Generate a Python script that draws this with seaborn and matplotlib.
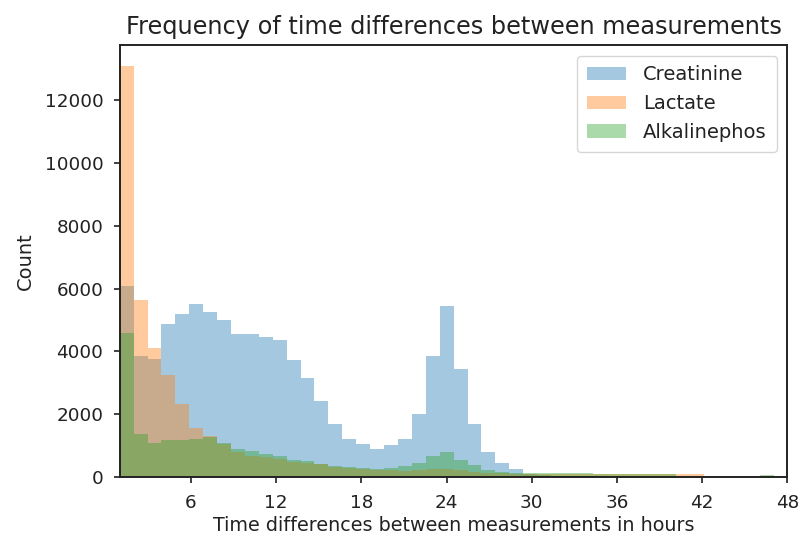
import numpy as np
import pandas as pd
import matplotlib
matplotlib.use("Agg")
import matplotlib.pyplot as plt
import seaborn as sns

# Histogram bin counts (bins of 0.98 h starting at 0.98 h)
bin_width = 0.98
n_bins = 48

creatinine = [6080, 3850, 3750, 4880, 5200, 5500, 5250, 5000, 4560, 4560,
              4450, 4370, 3730, 3160, 2410, 1700, 1200, 1040, 900, 1030,
              1200, 2010, 3850, 5440, 3430, 1700, 810, 450, 240, 100,
              60, 40, 30, 25, 20, 15, 15, 10, 10, 10,
              8, 5, 5, 3, 3, 2, 2, 0]
lactate = [13100, 5630, 4120, 3240, 2340, 1560, 1320, 1060, 800, 665,
           633, 570, 475, 456, 410, 330, 300, 260, 230, 210,
           200, 210, 240, 270, 220, 170, 140, 120, 110, 100,
           100, 95, 95, 90, 90, 90, 90, 90, 90, 90,
           85, 85, 0, 0, 0, 0, 0, 0]
alkalinephos = [4590, 1380, 1080, 1190, 1190, 1215, 1266, 1090, 877, 823,
                740, 665, 550, 506, 430, 348, 316, 285, 250, 297,
                338, 443, 665, 791, 550, 370, 234, 158, 130, 130,
                130, 140, 140, 140, 90, 90, 90, 90, 90, 90,
                0, 0, 0, 0, 0, 0, 60, 0]

series_names = ["Creatinine", "Lactate", "Alkalinephos"]
series_values = [creatinine, lactate, alkalinephos]
colors = ["#1f77b4", "#ff7f0e", "#2ca02c"]

x_ticks = [6, 12, 18, 24, 30, 36, 42, 48]
y_ticks = [0, 2000, 4000, 6000, 8000, 10000, 12000]

edges = [float(e) for e in bin_width * np.arange(1, n_bins + 2)]
centers = [(a + b) / 2 for a, b in zip(edges[:-1], edges[1:])]

fig = plt.figure(figsize=(8.0, 5.39), dpi=100)
ax = fig.add_axes([0.150, 0.115, 0.834, 0.8015])

for name, vals, col in zip(series_names, series_values, colors):
    df = pd.DataFrame({"hours": centers, "count": vals})
    sns.histplot(data=df, x="hours", weights="count", bins=edges, ax=ax,
                 color=col, alpha=0.4, linewidth=0, label=name)

ax.set_xlim(1, 48)
ax.set_xticks(x_ticks)
ax.set_yticks(y_ticks)
ax.tick_params(labelsize=13.2, length=4.5, width=1.3, pad=7.5, color="#333333",
               labelcolor="#222222")
for s in ax.spines.values():
    s.set_linewidth(1.4)
    s.set_color("#222222")
ax.set_title("Frequency of time differences between measurements", fontsize=17.3,
             pad=8, color="#222222")
ax.set_xlabel("Time differences between measurements in hours", fontsize=13.8,
              labelpad=3, color="#222222")
ax.set_ylabel("Count", fontsize=14, labelpad=7, color="#222222")
leg = ax.legend(loc="upper right", fontsize=14, handlelength=2.0, borderpad=0.5,
                labelspacing=0.5, handletextpad=0.9, borderaxespad=0.55)
for t in leg.get_texts():
    t.set_color("#222222")

fig.savefig("out.png", dpi=100)
